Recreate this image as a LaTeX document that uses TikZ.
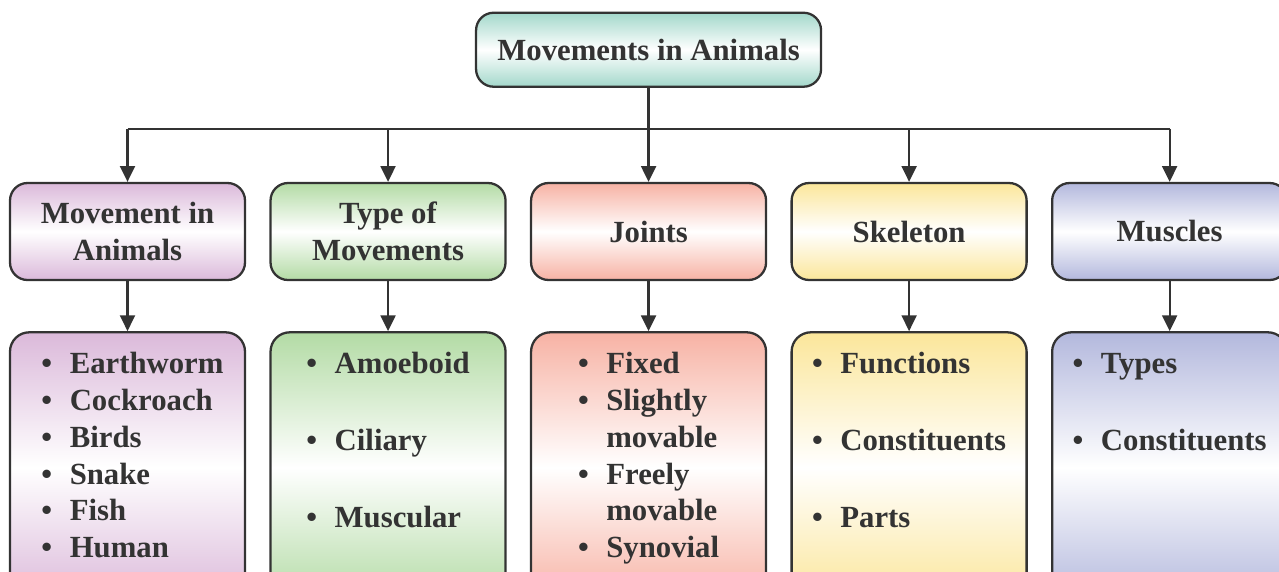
\documentclass[tikz,border=0pt]{standalone}
\usepackage{fontspec}
\setmainfont{Liberation Serif}
\usetikzlibrary{arrows.meta,positioning,calc}
\definecolor{edge}{HTML}{333333}
\definecolor{mint}{HTML}{A3D8CB}
\definecolor{plum}{HTML}{DBB9DA}
\definecolor{leaf}{HTML}{B3DBA5}
\definecolor{coral}{HTML}{F7B2A4}
\definecolor{sand}{HTML}{FBE69A}
\definecolor{lilac}{HTML}{B3B8DD}
\newcommand{\blt}{\textbullet}
\newcommand{\bigbf}{\bfseries\fontsize{17.5}{21}\selectfont}
\tikzset{
  fade/.style={top color=#1, bottom color=#1, middle color=white},
  head/.style={draw=edge, line width=1.3pt, rounded corners=10pt, align=center,
               text=edge, font=\bigbf, inner sep=0pt},
  cat/.style={head, minimum width=4.7cm, minimum height=1.94cm},
  listbox/.style={draw=edge, line width=1.3pt, rounded corners=11pt,
                  minimum width=4.7cm, minimum height=5.4cm},
  items/.style={text=edge, font=\bigbf, align=left, inner sep=0pt},
  arrow/.style={-{Triangle[length=9pt,width=8.5pt]}, line width=1.3pt, draw=edge},
  link/.style={line width=1.3pt, draw=edge}
}
\begin{document}
\begin{tikzpicture}
  \useasboundingbox (0,0) rectangle (25.58,-11.42);
  \clip (0,0) rectangle (25.58,-11.42);

  % category row
  \node[cat,fade=plum] (mov) at (2.55,-4.63) {Movement in\\Animals};
  \node[cat,fade=leaf,right=0.465cm of mov] (typ) {Type of\\Movements};
  \node[cat,fade=coral,right=0.465cm of typ] (jnt) {Joints};
  \node[cat,fade=sand,right=0.465cm of jnt] (skl) {Skeleton};
  \node[cat,fade=lilac,right=0.465cm of skl] (msc) {Muscles};

  % root
  \node[head,fade=mint,minimum width=6.9cm,minimum height=1.48cm,above=1.88cm of jnt] (top) {Movements in Animals};
  \coordinate[below=0.82cm of top.south] (hub);
  \draw[link] (top.south) -- (hub);
  \draw[link] (mov.north |- hub) -- (msc.north |- hub);
  \foreach \n in {mov,typ,jnt,skl,msc}
    \draw[arrow] (\n.north |- hub) -- (\n.north);

  % list row
  \node[listbox,fade=plum,below=1cm of mov] (movl) {};
  \node[listbox,fade=leaf,below=1cm of typ] (typl) {};
  \node[listbox,fade=coral,below=1cm of jnt] (jntl) {};
  \node[listbox,fade=sand,below=1cm of skl] (skll) {};
  \node[listbox,fade=lilac,below=1cm of msc] (mscl) {};
  \foreach \n in {mov,typ,jnt,skl,msc}
    \draw[arrow] (\n) -- (\n l);

  \node[items,below=0.32cm of movl.north,xshift=0.1cm] (movi) {%
    \begin{tabular}{@{}l@{\hspace{10pt}}l@{}}
      \blt & Earthworm\\ \blt & Cockroach\\ \blt & Birds\\
      \blt & Snake\\ \blt & Fish\\ \blt & Human
    \end{tabular}};
  \node[items,below=0.32cm of typl.north] (typi) {%
    \begin{tabular}{@{}l@{\hspace{10pt}}l@{}}
      \blt & Amoeboid\\[23pt] \blt & Ciliary\\[23pt] \blt & Muscular
    \end{tabular}};
  \node[items,below=0.32cm of jntl.north] (jnti) {%
    \begin{tabular}{@{}l@{\hspace{10pt}}l@{}}
      \blt & Fixed\\ \blt & Slightly\\ & movable\\
      \blt & Freely\\ & movable\\ \blt & Synovial
    \end{tabular}};
  \node[items,below=0.32cm of skll.north] (skli) {%
    \begin{tabular}{@{}l@{\hspace{10pt}}l@{}}
      \blt & Functions\\[23pt] \blt & Constituents\\[23pt] \blt & Parts
    \end{tabular}};
  \node[items,below=0.32cm of mscl.north] (msci) {%
    \begin{tabular}{@{}l@{\hspace{10pt}}l@{}}
      \blt & Types\\[23pt] \blt & Constituents
    \end{tabular}};
\end{tikzpicture}
\end{document}
